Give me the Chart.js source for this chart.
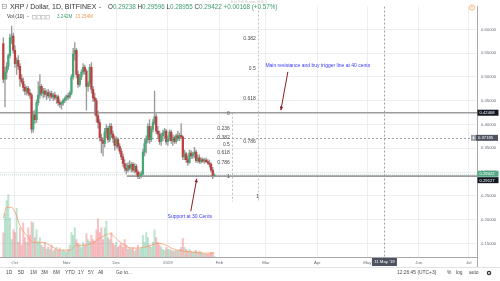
<!DOCTYPE html>
<html><head><meta charset="utf-8">
<script src="https://cdn.jsdelivr.net/npm/chart.js@4.4.1/dist/chart.umd.min.js"></script>
<style>html,body{margin:0;padding:0;background:#fff;overflow:hidden}canvas{display:block}</style>
</head><body>
<canvas id="c" width="500" height="281"></canvas>
<script>
// ---- data (day index 0 = 1 Oct 2018) ----
const START_DAY = -7; // 24 Sep 2018
const opens = [0.570,0.495,0.510,0.522,0.545,0.582,0.586,0.556,0.528,0.535,0.522,0.496,0.490,0.478,0.470,0.476,0.466,0.462,0.390,0.420,0.410,0.446,0.462,0.480,0.466,0.470,0.463,0.467,0.460,0.465,0.458,0.462,0.456,0.458,0.446,0.442,0.445,0.451,0.455,0.460,0.458,0.466,0.500,0.548,0.556,0.505,0.484,0.500,0.510,0.520,0.512,0.480,0.486,0.520,0.474,0.456,0.450,0.418,0.404,0.372,0.366,0.360,0.384,0.392,0.368,0.396,0.380,0.370,0.356,0.368,0.354,0.344,0.332,0.318,0.308,0.304,0.314,0.308,0.316,0.304,0.312,0.300,0.291,0.293,0.296,0.342,0.360,0.368,0.396,0.368,0.390,0.404,0.416,0.386,0.380,0.364,0.376,0.382,0.386,0.364,0.370,0.384,0.366,0.372,0.364,0.376,0.370,0.377,0.374,0.332,0.338,0.326,0.320,0.340,0.334,0.338,0.342,0.324,0.330,0.322,0.326,0.323,0.325,0.322,0.319,0.316,0.304,0.29238];
const highs = [0.582,0.520,0.530,0.548,0.590,0.607,0.592,0.566,0.540,0.545,0.528,0.505,0.498,0.484,0.480,0.480,0.474,0.466,0.428,0.430,0.452,0.490,0.505,0.484,0.476,0.476,0.472,0.474,0.470,0.470,0.466,0.468,0.462,0.462,0.452,0.448,0.454,0.458,0.462,0.466,0.470,0.505,0.560,0.572,0.560,0.512,0.506,0.515,0.528,0.525,0.516,0.490,0.526,0.530,0.480,0.466,0.455,0.428,0.410,0.380,0.372,0.392,0.400,0.396,0.402,0.402,0.386,0.376,0.374,0.372,0.360,0.350,0.338,0.326,0.318,0.320,0.324,0.320,0.320,0.318,0.316,0.304,0.300,0.302,0.348,0.368,0.376,0.402,0.410,0.396,0.410,0.470,0.422,0.396,0.386,0.382,0.388,0.392,0.390,0.376,0.388,0.388,0.378,0.376,0.380,0.386,0.382,0.402,0.376,0.346,0.342,0.334,0.346,0.345,0.342,0.352,0.346,0.336,0.336,0.330,0.330,0.328,0.330,0.326,0.325,0.320,0.310,0.29596];
const lows = [0.488,0.437,0.495,0.515,0.540,0.570,0.550,0.520,0.505,0.515,0.480,0.485,0.470,0.462,0.462,0.460,0.455,0.382,0.384,0.402,0.404,0.440,0.455,0.460,0.456,0.458,0.452,0.456,0.450,0.455,0.450,0.452,0.444,0.440,0.436,0.432,0.440,0.446,0.450,0.452,0.455,0.462,0.495,0.535,0.498,0.478,0.480,0.494,0.505,0.505,0.430,0.470,0.480,0.466,0.448,0.420,0.405,0.392,0.365,0.340,0.334,0.352,0.372,0.362,0.364,0.372,0.362,0.346,0.350,0.348,0.338,0.326,0.312,0.302,0.296,0.300,0.304,0.300,0.300,0.298,0.294,0.286,0.286,0.288,0.293,0.334,0.340,0.362,0.360,0.364,0.384,0.400,0.380,0.370,0.358,0.356,0.366,0.370,0.358,0.356,0.366,0.360,0.356,0.360,0.360,0.366,0.366,0.370,0.326,0.326,0.320,0.314,0.318,0.328,0.328,0.330,0.320,0.320,0.318,0.318,0.320,0.318,0.320,0.316,0.310,0.300,0.286,0.28955];
const closes = [0.495,0.510,0.522,0.545,0.582,0.586,0.556,0.528,0.535,0.522,0.496,0.490,0.478,0.470,0.476,0.466,0.462,0.390,0.420,0.410,0.446,0.462,0.480,0.466,0.470,0.463,0.467,0.460,0.465,0.458,0.462,0.456,0.458,0.446,0.442,0.445,0.451,0.455,0.460,0.458,0.466,0.500,0.548,0.556,0.505,0.484,0.500,0.510,0.520,0.512,0.480,0.486,0.520,0.474,0.456,0.450,0.418,0.404,0.372,0.366,0.360,0.384,0.392,0.368,0.396,0.380,0.370,0.356,0.368,0.354,0.344,0.332,0.318,0.308,0.304,0.314,0.308,0.316,0.304,0.312,0.300,0.291,0.293,0.296,0.342,0.360,0.368,0.396,0.368,0.390,0.404,0.416,0.386,0.380,0.364,0.376,0.382,0.386,0.364,0.370,0.384,0.366,0.372,0.364,0.376,0.370,0.377,0.374,0.332,0.338,0.326,0.320,0.340,0.334,0.338,0.342,0.324,0.330,0.322,0.326,0.323,0.325,0.322,0.319,0.316,0.304,0.2925,0.29422];
const volumes = [82,148,191,211,132,59,92,83,165,50,99,40,116,66,50,99,73,119,116,66,92,50,66,40,33,50,26,33,26,40,20,26,33,23,30,20,26,20,17,26,40,83,73,99,59,46,40,33,50,40,79,59,53,73,59,53,92,129,83,99,59,99,122,66,59,83,46,40,50,33,40,46,33,59,40,26,33,26,33,20,26,40,26,33,73,50,83,66,40,33,50,92,66,50,40,33,26,23,33,26,26,23,20,20,23,20,26,33,63,33,26,20,26,20,17,20,23,17,20,17,11,11,10,10,10,16,16,3.242];
const volMaDays = [-7,-5,-2,1,3,7,11,15,19,23,27,33,37,41,45,49,54,57,62,66,70,74,78,82,86,90,94,98,106,114,120];
const volMaValues = [132,168,168,139,106,73,50,50,46,33,23,23,40,40,43,56,73,79,56,40,30,30,33,40,46,43,30,23,17,13,13.254];
const monthDays = [0,31,61,92,123,151,182,212,243,273];
const monthLabels = ['Oct','Nov','Dec','2019','Feb','Mar','Apr','May','Jun','Jul'];
const priceTicks = [0.15,0.20,0.25,0.30,0.35,0.40,0.45,0.50,0.55,0.60];
const resistancePrice = 0.42468;
const supportPrice = 0.29127;
const supportFromDay = 67.3;
const lastPrice = 0.29422;
const crossPrice = 0.37185;
const crossDay = 222;
const fibBLevels = [0,0.236,0.382,0.5,0.618,0.786,1];
const fibBLabels = ['0','0.236','0.382','0.5','0.618','0.786','1'];
const fibBFrom = 0.42468, fibBTo = 0.29127;
const fibALevels = [0.382,0.5,0.618,0.786,1];
const fibALabels = ['0.382','0.5','0.618','0.786','1'];
const fibAFrom = 0.7889, fibATo = 0.2484;

const X_MIN = -9, X_MAX = 278;
const UP = '#46a877', DOWN = '#bd3f3f';

const idx = opens.map((_, i) => START_DAY + i);
const wickData = idx.map((d, i) => ({x: d, y: [lows[i], highs[i]]}));
const bodyData = idx.map((d, i) => ({x: d, y: [opens[i], closes[i]]}));
const bodyColors = opens.map((o, i) => closes[i] >= o ? UP : DOWN);
const volData = idx.map((d, i) => ({x: d, y: volumes[i]}));
const volColors = opens.map((o, i) => closes[i] >= o ? 'rgba(83,185,135,0.38)' : 'rgba(235,90,100,0.38)');
const maData = volMaDays.map((d, i) => ({x: d, y: volMaValues[i]}));

const FONT = '"Liberation Sans", Arial, sans-serif';

function seg(ctx, x1, y1, x2, y2) { ctx.beginPath(); ctx.moveTo(x1, y1); ctx.lineTo(x2, y2); ctx.stroke(); }
function arrow(ctx, x1, y1, x2, y2) {
  seg(ctx, x1, y1, x2, y2);
  const a = Math.atan2(y2 - y1, x2 - x1), L = 4, W = 0.45;
  ctx.beginPath();
  ctx.moveTo(x2, y2);
  ctx.lineTo(x2 - L * Math.cos(a - W), y2 - L * Math.sin(a - W));
  ctx.lineTo(x2 - L * Math.cos(a + W), y2 - L * Math.sin(a + W));
  ctx.closePath(); ctx.fill();
}
function tag(ctx, text, x, yc, w, bg, fg) {
  ctx.fillStyle = bg; ctx.fillRect(x, yc - 3, w, 6);
  ctx.fillStyle = fg; ctx.font = '4.2px ' + FONT; ctx.textAlign = 'left'; ctx.textBaseline = 'middle';
  ctx.fillText(text, x + 2, yc + 0.3);
}

const overlay = {
  id: 'overlay',
  afterDatasetsDraw(chart) {
    const {ctx, chartArea: a, scales: {x, y}} = chart;
    ctx.save();
    ctx.beginPath(); ctx.rect(a.left, a.top, a.right - a.left, a.bottom - a.top); ctx.clip();
    ctx.setLineDash([2, 2]); ctx.strokeStyle = '#b0b0b0'; ctx.lineWidth = 0.8;
    const vb = y.getPixelForValue(0.238);
    const xa = Math.round(x.getPixelForValue(146.1)) + 0.5;
    seg(ctx, xa, a.top, xa, vb);
    const xb = Math.round(x.getPixelForValue(130.5)) + 0.5;
    seg(ctx, xb, y.getPixelForValue(fibBFrom), xb, vb);
    ctx.strokeStyle = '#8a8a8a'; ctx.lineWidth = 0.8;
    const cy = Math.round(y.getPixelForValue(crossPrice)) + 0.5;
    seg(ctx, a.left, cy, a.right, cy);
    const cx = Math.round(x.getPixelForValue(crossDay)) + 0.5;
    seg(ctx, cx, a.top, cx, a.bottom);
    ctx.setLineDash([]);
    ctx.fillStyle = '#4a4a4a'; ctx.font = '5px ' + FONT; ctx.textBaseline = 'middle';
    ctx.textAlign = 'right';
    fibBLevels.forEach((l, i) => {
      const p = fibBFrom + l * (fibBTo - fibBFrom);
      ctx.fillText(fibBLabels[i], x.getPixelForValue(129.3), y.getPixelForValue(p) + 0.5);
    });
    fibALevels.forEach((l, i) => {
      const p = fibAFrom + l * (fibATo - fibAFrom);
      const last = i === fibALevels.length - 1;
      ctx.fillText(fibALabels[i], x.getPixelForValue(last ? 146.8 : 144.9), y.getPixelForValue(p) + 0.5);
    });
    ctx.strokeStyle = '#8b2020'; ctx.fillStyle = '#8b2020'; ctx.lineWidth = 1;
    arrow(ctx, x.getPixelForValue(164.2), y.getPixelForValue(0.5107), x.getPixelForValue(160.0), y.getPixelForValue(0.4300));
    arrow(ctx, x.getPixelForValue(105.8), y.getPixelForValue(0.2176), x.getPixelForValue(109.4), y.getPixelForValue(0.2860));
    ctx.fillStyle = '#3a3af5'; ctx.font = '5px ' + FONT; ctx.textAlign = 'center';
    ctx.fillText('Main resistance and buy trigger line at 40 cents', x.getPixelForValue(182.2), y.getPixelForValue(0.523));
    ctx.fillText('Support at 30 Cents', x.getPixelForValue(105.2), y.getPixelForValue(0.2053));
    ctx.restore();
  },
  afterDraw(chart) {
    const {ctx, chartArea: a, scales: {x, y}} = chart;
    ctx.save();
    ctx.strokeStyle = '#a8a8a8'; ctx.lineWidth = 1;
    seg(ctx, a.right + 0.5, a.bottom, a.right + 0.5, 267);
    ctx.strokeStyle = '#dfe1e6';
    seg(ctx, 0, 267.5, 500, 267.5);
    const cx = x.getPixelForValue(crossDay);
    ctx.fillStyle = '#4c525e'; ctx.fillRect(cx - 12, 258, 25, 8);
    ctx.fillStyle = '#fff'; ctx.font = '4.3px ' + FONT; ctx.textAlign = 'center'; ctx.textBaseline = 'middle';
    ctx.fillText("11 May '19", cx + 0.5, 262.3);
    tag(ctx, '0.42468', a.right + 0.5, y.getPixelForValue(resistancePrice), 21, '#131722', '#fff');
    tag(ctx, '0.37185', a.right - 1, y.getPixelForValue(crossPrice), 22, '#4c525e', '#fff');
    ctx.fillStyle = '#9aa0aa'; ctx.fillRect(a.right - 6, y.getPixelForValue(crossPrice) - 3, 5, 6);
    ctx.strokeStyle = '#fff'; ctx.lineWidth = 0.6;
    const pcy = y.getPixelForValue(crossPrice), pcx = a.right - 3.5;
    seg(ctx, pcx - 1.5, pcy, pcx + 1.5, pcy); seg(ctx, pcx, pcy - 1.5, pcx, pcy + 1.5);
    tag(ctx, '0.29422', a.right + 0.5, y.getPixelForValue(lastPrice) - 1, 21, '#53a983', '#fff');
    tag(ctx, '0.29127', a.right + 0.5, y.getPixelForValue(supportPrice) + 4, 21, '#131722', '#fff');
    ctx.textAlign = 'left'; ctx.textBaseline = 'middle';
    ctx.strokeStyle = '#8a8a8a'; ctx.lineWidth = 0.6;
    ctx.strokeRect(2.5, 4.5, 4, 4); seg(ctx, 3.5, 6.5, 5.5, 6.5);
    ctx.font = '7px ' + FONT; ctx.fillStyle = '#333';
    const title = 'XRP / Dollar, 1D, BITFINEX';
    ctx.fillText(title, 10, 7);
    ctx.fillText('-', 10 + ctx.measureText(title).width + 2.5, 7);
    let px = 108;
    const parts = [['O', '#333'], ['0.29238 ', '#3f9c72'], ['H', '#333'], ['0.29596 ', '#3f9c72'], ['L', '#333'], ['0.28955 ', '#3f9c72'], ['C', '#333'], ['0.29422 ', '#3f9c72'], ['+0.00168 (+0.57%)', '#3f9c72']];
    ctx.font = '6.3px ' + FONT;
    parts.forEach(([t, c]) => { ctx.fillStyle = c; ctx.fillText(t, px, 7); px += ctx.measureText(t).width; });
    ctx.font = '5px ' + FONT; ctx.fillStyle = '#333';
    ctx.fillText('Vol (10)', 7, 17);
    ctx.fillText('-', 27, 17);
    ctx.strokeStyle = '#b5b5b5';
    for (let i = 0; i < 4; i++) ctx.strokeRect(32.5 + i * 4.5, 15.5, 3.5, 3.5);
    ctx.font = '4.6px ' + FONT;
    ctx.fillStyle = '#3f9c72'; ctx.fillText('3.242M', 57, 17);
    ctx.fillStyle = '#f39a55'; ctx.fillText('13.254M', 75, 17);
    ctx.fillStyle = '#c9c9c9'; ctx.font = '3.6px ' + FONT;
    ctx.fillText('Exit Full Screen (ESC)', 231, 2);
    ctx.strokeStyle = '#f5a35c'; ctx.lineWidth = 0.8;
    ctx.beginPath(); ctx.arc(472, 7.5, 2.6, 0, Math.PI * 2); ctx.stroke();
    ctx.fillStyle = '#f5a35c'; ctx.fillRect(471.6, 6, 0.8, 2); ctx.fillRect(471.6, 8.6, 0.8, 0.7);
    ctx.fillStyle = '#4a4a4a'; ctx.font = '4.9px ' + FONT; ctx.textBaseline = 'middle';
    const tb = [['1D', 6], ['5D', 18], ['1M', 30], ['3M', 41], ['6M', 53], ['YTD', 65], ['1Y', 78], ['5Y', 88], ['All', 98], ['Go to...', 116]];
    tb.forEach(([t, xx]) => ctx.fillText(t, xx, 273));
    ctx.fillText('12:26:45 (UTC+3)', 397, 273);
    ctx.fillText('%', 447, 273);
    ctx.fillText('log', 456, 273);
    ctx.fillText('auto', 469, 273);
    ctx.strokeStyle = '#333'; ctx.lineWidth = 1.3;
    ctx.beginPath(); ctx.arc(489, 273, 1.6, 0, Math.PI * 2); ctx.stroke();
    ctx.restore();
  }
};

new Chart(document.getElementById('c'), {
  type: 'bar',
  data: {
    datasets: [
      {type: 'bar', data: volData, yAxisID: 'yv', backgroundColor: volColors, barThickness: 1.3, grouped: false, borderWidth: 0, order: 6},
      {type: 'line', data: maData, yAxisID: 'yv', borderColor: 'rgba(246,150,90,0.8)', borderWidth: 0.9, pointRadius: 0, cubicInterpolationMode: 'monotone', order: 5},
      {type: 'line', data: [{x: X_MIN, y: lastPrice}, {x: X_MAX, y: lastPrice}], yAxisID: 'y', borderColor: 'rgba(120,180,150,0.55)', borderWidth: 0.8, borderDash: [1, 1], pointRadius: 0, order: 4},
      {type: 'line', data: [{x: X_MIN, y: resistancePrice}, {x: X_MAX, y: resistancePrice}], yAxisID: 'y', borderColor: '#9c9c9c', borderWidth: 1.6, pointRadius: 0, order: 3},
      {type: 'line', data: [{x: supportFromDay, y: supportPrice}, {x: X_MAX, y: supportPrice}], yAxisID: 'y', borderColor: '#9c9c9c', borderWidth: 1.6, pointRadius: 0, order: 3},
      {type: 'bar', data: wickData, yAxisID: 'y', backgroundColor: '#9a9a9a', barThickness: 0.7, grouped: false, borderWidth: 0, order: 2},
      {type: 'bar', data: bodyData, yAxisID: 'y', backgroundColor: bodyColors, barThickness: 1.6, grouped: false, borderWidth: 0, minBarLength: 0.8, order: 1}
    ]
  },
  options: {
    responsive: false, animation: false, devicePixelRatio: 1,
    layout: {padding: 0},
    plugins: {legend: {display: false}, tooltip: {enabled: false}},
    scales: {
      x: {
        type: 'linear', min: X_MIN, max: X_MAX, offset: false, position: 'bottom',
        grid: {color: '#eceef2', drawTicks: false, offset: false},
        border: {color: '#a8a8a8'},
        afterBuildTicks: s => { s.ticks = monthDays.map(v => ({value: v})); },
        afterFit: s => { s.height = 24; },
        ticks: {font: {size: 4.3, family: FONT}, color: '#6a6d78', padding: 3.5, maxRotation: 0, autoSkip: false,
          callback: v => { const k = monthDays.indexOf(v); return k >= 0 ? monthLabels[k] : ''; }}
      },
      y: {
        type: 'linear', position: 'right', min: 0.1213, max: 0.648,
        grid: {color: '#eceef2', drawTicks: false},
        border: {color: '#a8a8a8'},
        afterBuildTicks: s => { s.ticks = priceTicks.map(v => ({value: v})); },
        afterFit: s => { s.width = 23; },
        ticks: {font: {size: 4.2, family: FONT}, color: '#6a6d78', padding: 4, callback: v => Number(v).toFixed(5)}
      },
      yv: {type: 'linear', display: false, min: 0, max: 848}
    }
  },
  plugins: [overlay]
});
</script></body></html>
